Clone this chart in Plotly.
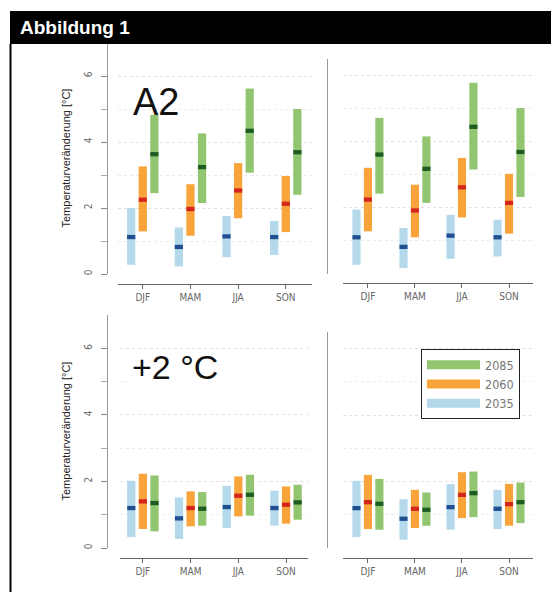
import plotly.graph_objects as go

# ---------------- data ----------------
seasons = ["DJF", "MAM", "JJA", "SON"]
years = ["2035", "2060", "2085"]

# top-left panel (A2)
tl_lo_2035 = [0.28, 0.23, 0.51, 0.58]
tl_md_2035 = [1.12, 0.82, 1.14, 1.12]
tl_hi_2035 = [2.00, 1.41, 1.76, 1.61]
tl_lo_2060 = [1.29, 1.16, 1.69, 1.27]
tl_md_2060 = [2.25, 1.97, 2.53, 2.13]
tl_hi_2060 = [3.26, 2.72, 3.36, 2.97]
tl_lo_2085 = [2.45, 2.15, 3.07, 2.40]
tl_md_2085 = [3.63, 3.24, 4.34, 3.69]
tl_hi_2085 = [4.82, 4.26, 5.62, 5.00]

# top-right panel (A2)
tr_lo_2035 = [0.28, 0.18, 0.46, 0.53]
tr_md_2035 = [1.11, 0.82, 1.16, 1.11]
tr_hi_2035 = [1.95, 1.39, 1.79, 1.64]
tr_lo_2060 = [1.29, 1.11, 1.71, 1.22]
tr_md_2060 = [2.25, 1.92, 2.62, 2.15]
tr_hi_2060 = [3.21, 2.70, 3.51, 3.03]
tr_lo_2085 = [2.43, 2.15, 3.16, 2.33]
tr_md_2085 = [3.61, 3.18, 4.45, 3.69]
tr_hi_2085 = [4.72, 4.16, 5.78, 5.02]

# bottom-left panel (+2 °C)
bl_lo_2035 = [0.33, 0.27, 0.60, 0.67]
bl_md_2035 = [1.20, 0.89, 1.23, 1.20]
bl_hi_2035 = [2.02, 1.52, 1.87, 1.72]
bl_lo_2060 = [0.57, 0.65, 0.95, 0.73]
bl_md_2060 = [1.40, 1.20, 1.57, 1.30]
bl_hi_2060 = [2.23, 1.70, 2.15, 1.85]
bl_lo_2085 = [0.50, 0.67, 0.97, 0.85]
bl_md_2085 = [1.35, 1.18, 1.60, 1.37]
bl_hi_2085 = [2.18, 1.68, 2.20, 1.90]

# bottom-right panel (+2 °C)
br_lo_2035 = [0.33, 0.25, 0.55, 0.57]
br_md_2035 = [1.20, 0.88, 1.23, 1.18]
br_hi_2035 = [2.02, 1.47, 1.92, 1.75]
br_lo_2060 = [0.57, 0.60, 0.90, 0.67]
br_md_2060 = [1.38, 1.18, 1.60, 1.32]
br_hi_2060 = [2.20, 1.75, 2.28, 1.93]
br_lo_2085 = [0.55, 0.67, 0.93, 0.75]
br_md_2085 = [1.33, 1.15, 1.65, 1.38]
br_hi_2085 = [2.08, 1.67, 2.30, 1.97]

y_tick_vals = [0, 2, 4, 6]
y_minor_vals = [1, 3, 5]
y_title = "Temperaturveränderung [°C]"

# ---------------- styling ----------------
W, H = 551, 592
def fx(p):
    return p / W
def fy(p):
    return 1 - p / H

range_col = {"2035": "#b3d9ea", "2060": "#f8a43a", "2085": "#92c56f"}
med_col = {"2035": "#1f4f8f", "2060": "#d3261c", "2085": "#1d5c22"}
MED_H = 0.13

panels = [
    ("x", "y", {
        "2035": (tl_lo_2035, tl_md_2035, tl_hi_2035),
        "2060": (tl_lo_2060, tl_md_2060, tl_hi_2060),
        "2085": (tl_lo_2085, tl_md_2085, tl_hi_2085)}),
    ("x2", "y2", {
        "2035": (tr_lo_2035, tr_md_2035, tr_hi_2035),
        "2060": (tr_lo_2060, tr_md_2060, tr_hi_2060),
        "2085": (tr_lo_2085, tr_md_2085, tr_hi_2085)}),
    ("x3", "y3", {
        "2035": (bl_lo_2035, bl_md_2035, bl_hi_2035),
        "2060": (bl_lo_2060, bl_md_2060, bl_hi_2060),
        "2085": (bl_lo_2085, bl_md_2085, bl_hi_2085)}),
    ("x4", "y4", {
        "2035": (br_lo_2035, br_md_2035, br_hi_2035),
        "2060": (br_lo_2060, br_md_2060, br_hi_2060),
        "2085": (br_lo_2085, br_md_2085, br_hi_2085)}),
]

fig = go.Figure()
for xa, ya, data in panels:
    for yr in years:
        lo, md, hi = data[yr]
        fig.add_trace(go.Bar(
            x=seasons, y=[h - l for l, h in zip(lo, hi)], base=lo,
            offsetgroup=yr, marker=dict(color=range_col[yr], line=dict(width=0)),
            xaxis=xa, yaxis=ya, showlegend=False, hoverinfo="skip"))
        fig.add_trace(go.Bar(
            x=seasons, y=[MED_H] * len(md), base=[m - MED_H / 2 for m in md],
            offsetgroup=yr, marker=dict(color=med_col[yr], line=dict(width=0)),
            xaxis=xa, yaxis=ya, showlegend=False, hoverinfo="skip"))

# legend entries (top to bottom: 2085, 2060, 2035)
for yr in ["2085", "2060", "2035"]:
    fig.add_trace(go.Scatter(
        x=[None], y=[None], mode="lines", name=yr,
        line=dict(color=range_col[yr], width=9),
        xaxis="x4", yaxis="y4"))

FONT = "Liberation Sans, Arial, sans-serif"
TICKFONT = dict(family="DejaVu Sans Condensed, DejaVu Sans, sans-serif", size=10, color="#666")

def xaxis_cfg(x0, x1, ypos, xr):
    return dict(domain=[fx(x0), fx(x1)], anchor="free", position=fy(ypos),
                range=xr, type="category", showline=True, linecolor="#666",
                linewidth=1.3, ticks="outside", ticklen=4, tickcolor="#666",
                tickfont=TICKFONT, showgrid=False, zeroline=False, fixedrange=True)

def yaxis_cfg(y0, y1, xpos, yr, labels):
    d = dict(domain=[fy(y0), fy(y1)], anchor="free", position=fx(xpos),
             range=yr, tickvals=y_tick_vals, showline=True,
             linecolor="#9a9a9a", linewidth=1.2, zeroline=False,
             showgrid=True, gridcolor="#e2e2e2", griddash="dot", gridwidth=1,
             fixedrange=True)
    if labels:
        d.update(ticks="outside", ticklen=6, tickcolor="#888", tickangle=-90,
                 tickfont=TICKFONT, ticklabelstandoff=5,
                 minor=dict(tickvals=y_minor_vals, ticks="outside", ticklen=6,
                            tickcolor="#aaa", showgrid=True,
                            gridcolor="#ececec", griddash="dot"))
    else:
        d.update(showticklabels=False, ticks="",
                 minor=dict(tickvals=y_minor_vals, showgrid=True,
                            gridcolor="#ececec", griddash="dot"))
    return d

fig.update_layout(
    width=W, height=H, margin=dict(l=0, r=0, t=0, b=0),
    paper_bgcolor="white", plot_bgcolor="white",
    barmode="group", bargap=0.27, bargroupgap=0.29,
    font=dict(family=FONT, color="#222"),
    xaxis=xaxis_cfg(118, 312, 284, [-0.52, 3.55]),
    yaxis=yaxis_cfg(274, 43, 107, [0, 7], True),
    xaxis2=xaxis_cfg(343, 533, 283, [-0.53, 3.51]),
    yaxis2=yaxis_cfg(274, 59, 327, [0, 6.5], False),
    xaxis3=xaxis_cfg(120, 308, 558, [-0.48, 3.46]),
    yaxis3=yaxis_cfg(548, 315, 107, [0, 7], True),
    xaxis4=xaxis_cfg(343, 533, 558, [-0.53, 3.51]),
    yaxis4=yaxis_cfg(548, 332, 327, [0, 6.5], False),
    showlegend=True,
    legend=dict(x=fx(421), y=fy(349), xanchor="left", yanchor="top",
                bordercolor="#222", borderwidth=1, bgcolor="white",
                font=dict(family="DejaVu Sans Condensed, DejaVu Sans, sans-serif", size=12.5, color="#777"),
                itemwidth=53, tracegroupgap=0, traceorder="normal"),
)

shapes = [
    # header bar
    dict(type="rect", xref="paper", yref="paper", x0=fx(10), x1=1, y0=fy(44), y1=fy(11),
         fillcolor="black", line=dict(width=0), layer="above"),
    # left frame line
    dict(type="line", xref="paper", yref="paper", x0=fx(10.5), x1=fx(10.5), y0=0, y1=fy(44),
         line=dict(color="black", width=2)),
    # white label box for +2 °C
    dict(type="rect", xref="paper", yref="paper", x0=fx(127), x1=fx(325), y0=fy(383), y1=fy(350),
         fillcolor="white", line=dict(width=0), layer="above"),
]
fig.update_layout(shapes=shapes)

annotations = [
    dict(text="<b>Abbildung 1</b>", x=fx(18), y=fy(28), xref="paper", yref="paper",
         xanchor="left", yanchor="middle", showarrow=False,
         font=dict(family=FONT, size=19, color="white")),
    dict(text=y_title, x=fx(65), y=fy(158.5), xref="paper", yref="paper",
         textangle=-90, showarrow=False, xanchor="center", yanchor="middle",
         font=dict(family=FONT, size=11, color="#222")),
    dict(text=y_title, x=fx(65), y=fy(431.5), xref="paper", yref="paper",
         textangle=-90, showarrow=False, xanchor="center", yanchor="middle",
         font=dict(family=FONT, size=11, color="#222")),
    dict(text="A2", x=fx(131), y=fy(102), xref="paper", yref="paper",
         xanchor="left", yanchor="middle", showarrow=False,
         font=dict(family=FONT, size=38, color="#111")),
    dict(text="+2 °C", x=fx(130), y=fy(367), xref="paper", yref="paper",
         xanchor="left", yanchor="middle", showarrow=False,
         font=dict(family=FONT, size=34, color="#111")),
]
fig.update_layout(annotations=annotations)

fig.write_html(
    "out.html",
    config={"displayModeBar": False},
    post_script="document.body.style.margin='0';document.body.style.padding='0';"
                "document.documentElement.style.overflow='hidden';",
)
